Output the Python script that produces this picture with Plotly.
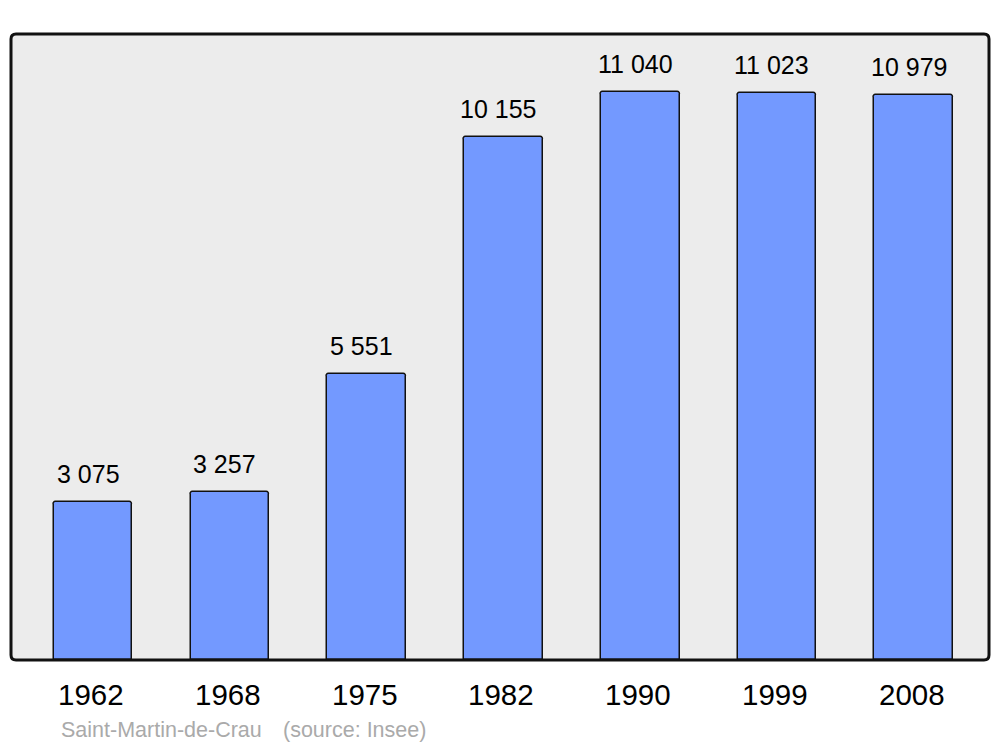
import plotly.graph_objects as go

years = ['1962', '1968', '1975', '1982', '1990', '1999', '2008']
population = [3075, 3257, 5551, 10155, 11040, 11023, 10979]
value_labels = ['3 075', '3 257', '5 551', '10 155', '11 040', '11 023', '10 979']

FONT = 'Liberation Sans, Arial, sans-serif'

fig = go.Figure()

fig.add_trace(go.Bar(
    x=years,
    y=population,
    width=0.575,
    marker=dict(color='#7399ff', line=dict(color='#111111', width=1.5), cornerradius=3),
    hoverinfo='skip',
))

# value labels above each bar (x given as category index)
for i, (val, lab) in enumerate(zip(population, value_labels)):
    fig.add_annotation(
        x=i, y=val, text=lab, showarrow=False, yshift=28, xshift=-5,
        yanchor='middle', font=dict(size=25, color='#000000', family=FONT),
    )

# year labels under the frame
for i, yr in enumerate(years):
    fig.add_annotation(
        x=i, y=-0.0559, yref='paper', text=yr, showarrow=False, xshift=-2,
        yanchor='middle', font=dict(size=29.5, color='#000000', family=FONT),
    )

fig.add_annotation(
    x=0.049, y=-0.1118, xref='paper', yref='paper', text='Saint-Martin-de-Crau',
    showarrow=False, xanchor='left', yanchor='middle',
    font=dict(size=21.5, color='#aaaaaa', family=FONT),
)
fig.add_annotation(
    x=0.2765, y=-0.1118, xref='paper', yref='paper', text='(source: Insee)',
    showarrow=False, xanchor='left', yanchor='middle',
    font=dict(size=21.5, color='#aaaaaa', family=FONT),
)

# rounded frame around plot area
rx, ry = 5 / 978, 5 / 626
frame = (
    f'M {rx},0 L {1 - rx},0 Q 1,0 1,{ry} L 1,{1 - ry} Q 1,1 {1 - rx},1 '
    f'L {rx},1 Q 0,1 0,{1 - ry} L 0,{ry} Q 0,0 {rx},0 Z'
)
fig.add_shape(type='path', path=frame, xref='paper', yref='paper',
              line=dict(color='#111111', width=3), layer='above')

fig.update_layout(
    width=1000,
    height=747,
    margin=dict(l=11, r=11, t=34, b=87),
    paper_bgcolor='#ffffff',
    plot_bgcolor='#ececec',
    showlegend=False,
    bargap=0,
    font=dict(family=FONT),
)
fig.update_xaxes(type='category', range=[-0.6, 6.55], showticklabels=False,
                 showgrid=False, zeroline=False, showline=False, ticks='')
fig.update_yaxes(range=[0, 12160], showticklabels=False, showgrid=False,
                 zeroline=False, showline=False, ticks='')

fig.write_html('out.html', config={'displayModeBar': False},
               post_script="document.body.style.margin='0';")
